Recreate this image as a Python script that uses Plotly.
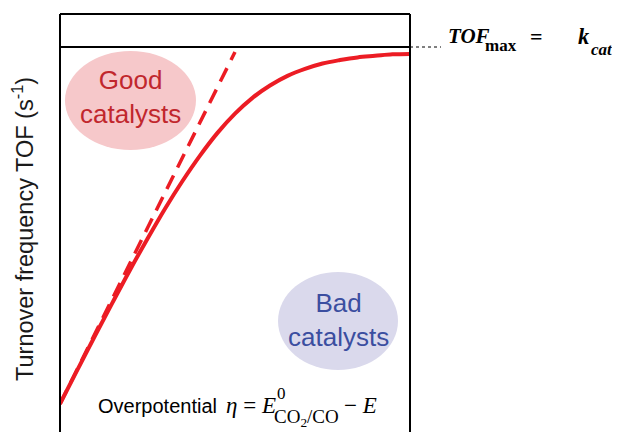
import plotly.graph_objects as go

# ---- data (normalised overpotential vs normalised log TOF) ----
ETA = [0.00, 0.05, 0.10, 0.15, 0.20, 0.25, 0.30, 0.35, 0.40, 0.45, 0.50,
       0.55, 0.60, 0.65, 0.70, 0.75, 0.80, 0.85, 0.90, 0.95, 1.00]
LOG_TOF = [0.073, 0.162, 0.250, 0.336, 0.421, 0.502, 0.580, 0.652, 0.718, 0.777, 0.827,
           0.868, 0.900, 0.925, 0.943, 0.957, 0.966, 0.973, 0.977, 0.981, 0.982]
TANGENT_ETA = [0.00, 0.50]
TANGENT_LOG_TOF = [0.073, 0.987]
KCAT_LEVEL = 1.0

RED = "#ec1c24"
SANS = "Liberation Sans, Arial, sans-serif"
SERIF = "Liberation Serif, Times New Roman, serif"

OFF = 8                      # page body margin
W, H = 620 - OFF, 432 - OFF  # figure size that fits the window
BOX_L, BOX_R, BOX_T = 60, 410, 14   # target window pixels of the frame
L = BOX_L - OFF
T = BOX_T - OFF
PW = BOX_R - BOX_L
R = W - L - PW
B = 0
PH = H - T - B
YMAX = PH / 385


def px(xp):
    return (xp - BOX_L) / PW


def py(yp):
    return (432 - yp) / PH


fig = go.Figure()
fig.add_trace(go.Scatter(x=TANGENT_ETA, y=TANGENT_LOG_TOF, mode="lines",
                         line=dict(color=RED, width=3.5, dash="15px,9px"),
                         hoverinfo="skip"))
fig.add_trace(go.Scatter(x=ETA, y=LOG_TOF, mode="lines",
                         line=dict(color=RED, width=4, shape="spline"),
                         hoverinfo="skip"))

shapes = [
    dict(type="circle", xref="paper", yref="paper", x0=px(65), x1=px(196), y0=py(150), y1=py(51),
         fillcolor="#f6c8ca", line=dict(width=0), layer="below"),
    dict(type="circle", xref="paper", yref="paper", x0=px(278), x1=px(398), y0=py(370), y1=py(272),
         fillcolor="#dad9ec", line=dict(width=0), layer="below"),
    dict(type="line", xref="paper", yref="paper", x0=0, x1=0, y0=0, y1=1, line=dict(color="black", width=2)),
    dict(type="line", xref="paper", yref="paper", x0=1, x1=1, y0=0, y1=1, line=dict(color="black", width=2)),
    dict(type="line", xref="paper", yref="paper", x0=0, x1=1, y0=1, y1=1, line=dict(color="black", width=2)),
    dict(type="line", xref="paper", yref="y", x0=0, x1=1, y0=KCAT_LEVEL, y1=KCAT_LEVEL,
         line=dict(color="black", width=2)),
    dict(type="line", xref="paper", yref="y", x0=1, x1=px(441), y0=KCAT_LEVEL, y1=KCAT_LEVEL,
         line=dict(color="black", width=1, dash="dot")),
]

ann = []


def add(text, x, y, size, family, color="black", xanchor="left", yanchor="middle", **kw):
    ann.append(dict(text=text, xref="paper", yref="paper", x=px(x), y=py(y), showarrow=False,
                    xanchor=xanchor, yanchor=yanchor, font=dict(size=size, family=family, color=color), **kw))


add("Turnover frequency TOF (s<sup>-1</sup>)", 23, 229, 23.5, SANS, "#1a1a1a", xanchor="center", textangle=-90)
add("Good<br>catalysts", 130, 97, 26, SANS, "#c1272d", xanchor="center")
add("Bad<br>catalysts", 338, 320, 26, SANS, "#3b4ea0", xanchor="center")

add("Overpotential", 96, 406, 20, SANS)
add("<i>η</i> = <i>E</i>", 224, 405, 23, SERIF)
add("0", 275, 393, 17, SERIF)
add("CO<sub>2</sub>/CO", 272, 418, 19, SERIF)
add("− <i>E</i>", 342, 405, 23, SERIF)

add("<b><i>TOF</i></b>", 446, 36, 21, SERIF)
add("<b>max</b>", 483, 46, 17, SERIF)
add("<b>=</b>", 528, 36, 22, SERIF)
add("<b><i>k</i></b>", 576, 36, 22.5, SERIF)
add("<b><i>cat</i></b>", 589, 49, 17, SERIF)

fig.update_layout(
    width=W, height=H, margin=dict(l=L, r=R, t=T, b=B, pad=0),
    paper_bgcolor="white", plot_bgcolor="white", showlegend=False,
    xaxis=dict(range=[0, 1], visible=False, fixedrange=True),
    yaxis=dict(range=[0, YMAX], visible=False, fixedrange=True),
    shapes=shapes, annotations=ann,
)

fig.write_html("out.html")
